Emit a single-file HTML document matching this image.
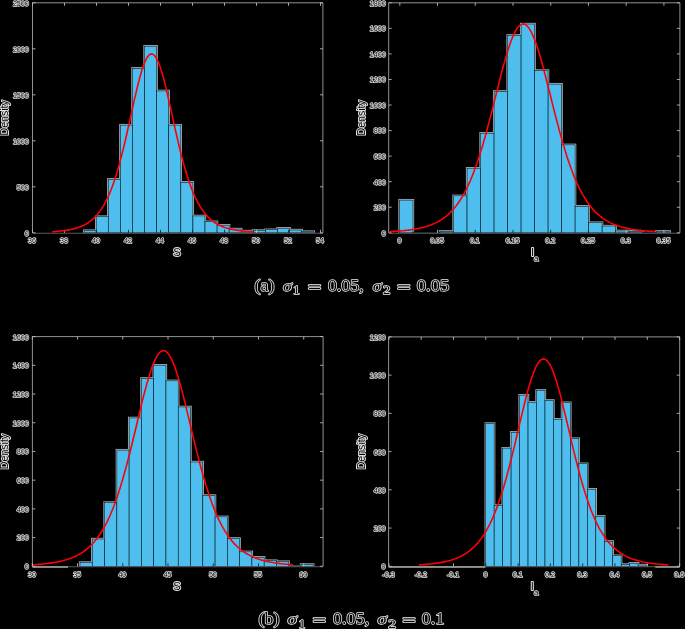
<!DOCTYPE html>
<html><head><meta charset="utf-8"><title>Histograms</title>
<style>
html,body{margin:0;padding:0;background:#000;}
svg{display:block}
text{font-family:"Liberation Sans",sans-serif;fill:#050505;stroke:#e2e2e2;stroke-width:1.6px;paint-order:stroke fill;stroke-linejoin:round}
.tk text,.tk{font-size:7.8px}
.lb{font-size:11.8px;stroke-width:2px}
.xl{font-size:11.3px}
.cp,.cpi,.cps{font-family:"Liberation Serif",serif;font-size:17px;stroke-width:1.45px;stroke:#ececec}
.cpi{font-style:italic;font-size:15px}
.cps{font-size:12.5px}
</style></head>
<body>
<svg width="685" height="629" viewBox="0 0 685 629">
<defs><filter id="bl" x="-5%" y="-5%" width="110%" height="110%"><feGaussianBlur stdDeviation="0.35"/></filter></defs>
<rect width="685" height="629" fill="#000"/>
<g filter="url(#bl)">
<rect x="82.95" y="229.45" width="14.39" height="3.35" fill="#b4b4b4"/>
<rect x="95.04" y="215.45" width="14.39" height="17.35" fill="#b4b4b4"/>
<rect x="107.13" y="178.15" width="14.39" height="54.65" fill="#b4b4b4"/>
<rect x="119.22" y="123.95" width="14.39" height="108.85" fill="#b4b4b4"/>
<rect x="131.31" y="67.15" width="14.39" height="165.65" fill="#b4b4b4"/>
<rect x="143.4" y="45.05" width="14.39" height="187.75" fill="#b4b4b4"/>
<rect x="155.49" y="89.75" width="14.39" height="143.05" fill="#b4b4b4"/>
<rect x="167.58" y="123.95" width="14.39" height="108.85" fill="#b4b4b4"/>
<rect x="179.67" y="181.15" width="14.39" height="51.65" fill="#b4b4b4"/>
<rect x="191.76" y="214.75" width="14.39" height="18.05" fill="#b4b4b4"/>
<rect x="203.85" y="220.55" width="14.39" height="12.25" fill="#b4b4b4"/>
<rect x="215.94" y="224.05" width="14.39" height="8.75" fill="#b4b4b4"/>
<rect x="228.03" y="227.85" width="14.39" height="4.95" fill="#b4b4b4"/>
<rect x="240.12" y="229.85" width="14.39" height="2.95" fill="#b4b4b4"/>
<rect x="252.21" y="229.35" width="14.39" height="3.45" fill="#b4b4b4"/>
<rect x="264.3" y="228.55" width="14.39" height="4.25" fill="#b4b4b4"/>
<rect x="276.39" y="227.05" width="14.39" height="5.75" fill="#b4b4b4"/>
<rect x="288.48" y="228.85" width="14.39" height="3.95" fill="#b4b4b4"/>
<rect x="300.57" y="230.45" width="14.39" height="2.35" fill="#b4b4b4"/>
<rect x="84.1" y="230.6" width="12.09" height="2.2" fill="#4DBEEE" stroke="#04141c" stroke-width="0.58"/>
<rect x="96.19" y="216.6" width="12.09" height="16.2" fill="#4DBEEE" stroke="#04141c" stroke-width="0.58"/>
<rect x="108.28" y="179.3" width="12.09" height="53.5" fill="#4DBEEE" stroke="#04141c" stroke-width="0.58"/>
<rect x="120.37" y="125.1" width="12.09" height="107.7" fill="#4DBEEE" stroke="#04141c" stroke-width="0.58"/>
<rect x="132.46" y="68.3" width="12.09" height="164.5" fill="#4DBEEE" stroke="#04141c" stroke-width="0.58"/>
<rect x="144.55" y="46.2" width="12.09" height="186.6" fill="#4DBEEE" stroke="#04141c" stroke-width="0.58"/>
<rect x="156.64" y="90.9" width="12.09" height="141.9" fill="#4DBEEE" stroke="#04141c" stroke-width="0.58"/>
<rect x="168.73" y="125.1" width="12.09" height="107.7" fill="#4DBEEE" stroke="#04141c" stroke-width="0.58"/>
<rect x="180.82" y="182.3" width="12.09" height="50.5" fill="#4DBEEE" stroke="#04141c" stroke-width="0.58"/>
<rect x="192.91" y="215.9" width="12.09" height="16.9" fill="#4DBEEE" stroke="#04141c" stroke-width="0.58"/>
<rect x="205" y="221.7" width="12.09" height="11.1" fill="#4DBEEE" stroke="#04141c" stroke-width="0.58"/>
<rect x="217.09" y="225.2" width="12.09" height="7.6" fill="#4DBEEE" stroke="#04141c" stroke-width="0.58"/>
<rect x="229.18" y="229" width="12.09" height="3.8" fill="#4DBEEE" stroke="#04141c" stroke-width="0.58"/>
<rect x="241.27" y="231" width="12.09" height="1.8" fill="#4DBEEE" stroke="#04141c" stroke-width="0.58"/>
<rect x="253.36" y="230.5" width="12.09" height="2.3" fill="#4DBEEE" stroke="#04141c" stroke-width="0.58"/>
<rect x="265.45" y="229.7" width="12.09" height="3.1" fill="#4DBEEE" stroke="#04141c" stroke-width="0.58"/>
<rect x="277.54" y="228.2" width="12.09" height="4.6" fill="#4DBEEE" stroke="#04141c" stroke-width="0.58"/>
<rect x="289.63" y="230" width="12.09" height="2.8" fill="#4DBEEE" stroke="#04141c" stroke-width="0.58"/>
<rect x="301.72" y="231.6" width="12.09" height="1.2" fill="#4DBEEE" stroke="#04141c" stroke-width="0.58"/>
<path d="M32.5 232.8V2.8H322.9V232.8" fill="none" stroke="#929292" stroke-width="1"/>
<path d="M32.5 233.3H322.9" fill="none" stroke="#5c5c5c" stroke-width="1.1"/>
<path d="M32.5 2.8v3M32.5 232.8v-3M64.5 2.8v3M64.5 232.8v-3M96.5 2.8v3M128.5 2.8v3M160.5 2.8v3M192.5 2.8v3M224.5 2.8v3M256.5 2.8v3M256.5 232.8v-3M288.5 2.8v3M320.5 2.8v3M320.5 232.8v-3M32.5 232.8h3M322.9 232.8h-3M32.5 186.8h3M322.9 186.8h-3M32.5 140.8h3M322.9 140.8h-3M32.5 94.8h3M322.9 94.8h-3M32.5 48.8h3M322.9 48.8h-3M32.5 2.8h3M322.9 2.8h-3" fill="none" stroke="#c2c2c2" stroke-width="0.85"/>
<path d="M96.5 232.8v-3M128.5 232.8v-3M160.5 232.8v-3M192.5 232.8v-3M224.5 232.8v-3M288.5 232.8v-3" fill="none" stroke="#0a2a38" stroke-width="0.9"/>
<polyline points="52.0,231.7 53.1,231.7 54.2,231.6 55.4,231.5 56.5,231.4 57.6,231.3 58.7,231.2 59.8,231.1 60.9,231.0 62.0,230.9 63.2,230.7 64.3,230.6 65.4,230.4 66.5,230.3 67.6,230.1 68.8,229.9 69.9,229.7 71.0,229.4 72.1,229.2 73.2,228.9 74.3,228.7 75.5,228.4 76.6,228.0 77.7,227.7 78.8,227.3 79.9,226.9 81.0,226.4 82.2,226.0 83.3,225.4 84.4,224.9 85.5,224.3 86.6,223.7 87.7,223.0 88.8,222.2 90.0,221.4 91.1,220.6 92.2,219.7 93.3,218.7 94.4,217.6 95.5,216.5 96.7,215.3 97.8,214.0 98.9,212.6 100.0,211.1 101.1,209.5 102.2,207.8 103.4,205.9 104.5,204.0 105.6,201.9 106.7,199.7 107.8,197.4 109.0,194.9 110.1,192.2 111.2,189.5 112.3,186.5 113.4,183.4 114.5,180.1 115.7,176.7 116.8,173.1 117.9,169.3 119.0,165.4 120.1,161.3 121.2,157.1 122.3,152.7 123.5,148.1 124.6,143.5 125.7,138.7 126.8,133.8 127.9,128.9 129.1,123.8 130.2,118.8 131.3,113.7 132.4,108.6 133.5,103.6 134.6,98.6 135.8,93.8 136.9,89.0 138.0,84.5 139.1,80.1 140.2,76.0 141.3,72.1 142.4,68.5 143.6,65.3 144.7,62.4 145.8,59.9 146.9,57.8 148.0,56.2 149.2,55.0 150.3,54.2 151.4,53.9 152.5,54.1 153.6,54.7 154.7,55.8 155.8,57.3 157.0,59.3 158.1,61.6 159.2,64.4 160.3,67.5 161.4,71.0 162.6,74.8 163.7,78.8 164.8,83.1 165.9,87.6 167.0,92.3 168.1,97.2 169.2,102.1 170.4,107.1 171.5,112.2 172.6,117.3 173.7,122.3 174.8,127.4 175.9,132.3 177.1,137.2 178.2,142.1 179.3,146.8 180.4,151.3 181.5,155.8 182.7,160.1 183.8,164.2 184.9,168.2 186.0,172.0 187.1,175.6 188.2,179.1 189.3,182.4 190.5,185.6 191.6,188.6 192.7,191.4 193.8,194.1 194.9,196.6 196.1,199.0 197.2,201.3 198.3,203.4 199.4,205.4 200.5,207.2 201.6,209.0 202.8,210.6 203.9,212.1 205.0,213.6 206.1,214.9 207.2,216.1 208.3,217.3 209.4,218.4 210.6,219.4 211.7,220.3 212.8,221.2 213.9,222.0 215.0,222.8 216.2,223.5 217.3,224.1 218.4,224.7 219.5,225.3 220.6,225.8 221.7,226.3 222.8,226.7 224.0,227.2 225.1,227.6 226.2,227.9 227.3,228.3 228.4,228.6 229.6,228.9 230.7,229.1 231.8,229.4 232.9,229.6 234.0,229.8 235.1,230.0 236.2,230.2 237.4,230.4 238.5,230.5 239.6,230.7 240.7,230.8 241.8,231.0 242.9,231.1 244.1,231.2 245.2,231.3 246.3,231.4 247.4,231.5 248.5,231.6 249.7,231.6 250.8,231.7 251.9,231.8 253.0,231.9" fill="none" stroke="#fc0008" stroke-width="1.6" stroke-linejoin="round"/>
<g class="tk"><text x="28.12" y="243.2" textLength="7.95" lengthAdjust="spacingAndGlyphs">36</text><text x="60.12" y="243.2" textLength="7.95" lengthAdjust="spacingAndGlyphs">38</text><text x="92.12" y="243.2" textLength="7.95" lengthAdjust="spacingAndGlyphs">40</text><text x="124.12" y="243.2" textLength="7.95" lengthAdjust="spacingAndGlyphs">42</text><text x="156.12" y="243.2" textLength="7.95" lengthAdjust="spacingAndGlyphs">44</text><text x="188.12" y="243.2" textLength="7.95" lengthAdjust="spacingAndGlyphs">46</text><text x="220.12" y="243.2" textLength="7.95" lengthAdjust="spacingAndGlyphs">48</text><text x="252.12" y="243.2" textLength="7.95" lengthAdjust="spacingAndGlyphs">50</text><text x="284.12" y="243.2" textLength="7.95" lengthAdjust="spacingAndGlyphs">52</text><text x="316.12" y="243.2" textLength="7.95" lengthAdjust="spacingAndGlyphs">54</text><text x="24.82" y="235.7" textLength="3.98" lengthAdjust="spacingAndGlyphs">0</text><text x="16.87" y="189.7" textLength="11.93" lengthAdjust="spacingAndGlyphs">500</text><text x="12.9" y="143.7" textLength="15.9" lengthAdjust="spacingAndGlyphs">1000</text><text x="12.9" y="97.7" textLength="15.9" lengthAdjust="spacingAndGlyphs">1500</text><text x="12.9" y="51.7" textLength="15.9" lengthAdjust="spacingAndGlyphs">2000</text><text x="12.9" y="5.7" textLength="15.9" lengthAdjust="spacingAndGlyphs">2500</text></g>
<text class="lb" transform="translate(8 135.5) rotate(-90)" textLength="35.3" lengthAdjust="spacingAndGlyphs">Density</text>
<text class="lb xl" x="177" y="256.4" text-anchor="middle">S</text>
<rect x="398.35" y="198.95" width="15.81" height="33.85" fill="#b4b4b4"/>
<rect x="438.88" y="230.25" width="15.81" height="2.55" fill="#b4b4b4"/>
<rect x="452.39" y="194.65" width="15.81" height="38.15" fill="#b4b4b4"/>
<rect x="465.9" y="167.05" width="15.81" height="65.75" fill="#b4b4b4"/>
<rect x="479.41" y="132.05" width="15.81" height="100.75" fill="#b4b4b4"/>
<rect x="492.92" y="90.25" width="15.81" height="142.55" fill="#b4b4b4"/>
<rect x="506.43" y="34.25" width="15.81" height="198.55" fill="#b4b4b4"/>
<rect x="519.94" y="22.85" width="15.81" height="209.95" fill="#b4b4b4"/>
<rect x="533.45" y="69.35" width="15.81" height="163.45" fill="#b4b4b4"/>
<rect x="546.96" y="82.95" width="15.81" height="149.85" fill="#b4b4b4"/>
<rect x="560.47" y="143.65" width="15.81" height="89.15" fill="#b4b4b4"/>
<rect x="573.98" y="205.15" width="15.81" height="27.65" fill="#b4b4b4"/>
<rect x="587.49" y="221.45" width="15.81" height="11.35" fill="#b4b4b4"/>
<rect x="601" y="224.85" width="15.81" height="7.95" fill="#b4b4b4"/>
<rect x="614.51" y="229.75" width="15.81" height="3.05" fill="#b4b4b4"/>
<rect x="628.02" y="230.25" width="15.81" height="2.55" fill="#b4b4b4"/>
<rect x="655.04" y="230.25" width="15.81" height="2.55" fill="#b4b4b4"/>
<rect x="399.5" y="200.1" width="13.51" height="32.7" fill="#4DBEEE" stroke="#04141c" stroke-width="0.58"/>
<rect x="413.01" y="232.1" width="13.51" height="0.7" fill="#4DBEEE" stroke="#04141c" stroke-width="0.58"/>
<rect x="426.52" y="232.1" width="13.51" height="0.7" fill="#4DBEEE" stroke="#04141c" stroke-width="0.58"/>
<rect x="440.03" y="231.4" width="13.51" height="1.4" fill="#4DBEEE" stroke="#04141c" stroke-width="0.58"/>
<rect x="453.54" y="195.8" width="13.51" height="37" fill="#4DBEEE" stroke="#04141c" stroke-width="0.58"/>
<rect x="467.05" y="168.2" width="13.51" height="64.6" fill="#4DBEEE" stroke="#04141c" stroke-width="0.58"/>
<rect x="480.56" y="133.2" width="13.51" height="99.6" fill="#4DBEEE" stroke="#04141c" stroke-width="0.58"/>
<rect x="494.07" y="91.4" width="13.51" height="141.4" fill="#4DBEEE" stroke="#04141c" stroke-width="0.58"/>
<rect x="507.58" y="35.4" width="13.51" height="197.4" fill="#4DBEEE" stroke="#04141c" stroke-width="0.58"/>
<rect x="521.09" y="24" width="13.51" height="208.8" fill="#4DBEEE" stroke="#04141c" stroke-width="0.58"/>
<rect x="534.6" y="70.5" width="13.51" height="162.3" fill="#4DBEEE" stroke="#04141c" stroke-width="0.58"/>
<rect x="548.11" y="84.1" width="13.51" height="148.7" fill="#4DBEEE" stroke="#04141c" stroke-width="0.58"/>
<rect x="561.62" y="144.8" width="13.51" height="88" fill="#4DBEEE" stroke="#04141c" stroke-width="0.58"/>
<rect x="575.13" y="206.3" width="13.51" height="26.5" fill="#4DBEEE" stroke="#04141c" stroke-width="0.58"/>
<rect x="588.64" y="222.6" width="13.51" height="10.2" fill="#4DBEEE" stroke="#04141c" stroke-width="0.58"/>
<rect x="602.15" y="226" width="13.51" height="6.8" fill="#4DBEEE" stroke="#04141c" stroke-width="0.58"/>
<rect x="615.66" y="230.9" width="13.51" height="1.9" fill="#4DBEEE" stroke="#04141c" stroke-width="0.58"/>
<rect x="629.17" y="231.4" width="13.51" height="1.4" fill="#4DBEEE" stroke="#04141c" stroke-width="0.58"/>
<rect x="642.68" y="232.2" width="13.51" height="0.6" fill="#4DBEEE" stroke="#04141c" stroke-width="0.58"/>
<rect x="656.19" y="231.4" width="13.51" height="1.4" fill="#4DBEEE" stroke="#04141c" stroke-width="0.58"/>
<path d="M388.7 232.8V2.8H679.9V232.8" fill="none" stroke="#929292" stroke-width="1"/>
<path d="M388.7 233.3H679.9" fill="none" stroke="#5c5c5c" stroke-width="1.1"/>
<path d="M399.8 2.8v3M437.53 2.8v3M437.53 232.8v-3M475.26 2.8v3M512.99 2.8v3M550.72 2.8v3M588.45 2.8v3M626.18 2.8v3M626.18 232.8v-3M663.91 2.8v3M663.91 232.8v-3M388.7 232.8h3M679.9 232.8h-3M388.7 207.24h3M679.9 207.24h-3M388.7 181.69h3M679.9 181.69h-3M388.7 156.13h3M679.9 156.13h-3M388.7 130.58h3M679.9 130.58h-3M388.7 105.02h3M679.9 105.02h-3M388.7 79.47h3M679.9 79.47h-3M388.7 53.91h3M679.9 53.91h-3M388.7 28.36h3M679.9 28.36h-3M388.7 2.8h3M679.9 2.8h-3" fill="none" stroke="#c2c2c2" stroke-width="0.85"/>
<path d="M399.8 232.8v-3M475.26 232.8v-3M512.99 232.8v-3M550.72 232.8v-3M588.45 232.8v-3" fill="none" stroke="#0a2a38" stroke-width="0.9"/>
<polyline points="389.2,231.7 390.7,231.6 392.2,231.5 393.6,231.4 395.1,231.3 396.6,231.2 398.1,231.1 399.6,231.0 401.0,230.9 402.5,230.7 404.0,230.6 405.5,230.4 407.0,230.3 408.4,230.1 409.9,229.9 411.4,229.7 412.9,229.5 414.4,229.2 415.8,229.0 417.3,228.7 418.8,228.4 420.3,228.1 421.7,227.7 423.2,227.4 424.7,227.0 426.2,226.5 427.7,226.1 429.1,225.6 430.6,225.0 432.1,224.4 433.6,223.8 435.1,223.1 436.5,222.4 438.0,221.6 439.5,220.8 441.0,219.9 442.5,218.9 443.9,217.9 445.4,216.8 446.9,215.6 448.4,214.3 449.9,212.9 451.3,211.4 452.8,209.8 454.3,208.1 455.8,206.3 457.3,204.3 458.7,202.2 460.2,200.0 461.7,197.7 463.2,195.1 464.7,192.5 466.1,189.6 467.6,186.6 469.1,183.4 470.6,180.0 472.0,176.5 473.5,172.7 475.0,168.8 476.5,164.6 478.0,160.3 479.4,155.8 480.9,151.1 482.4,146.2 483.9,141.1 485.4,135.9 486.8,130.5 488.3,125.0 489.8,119.3 491.3,113.6 492.8,107.7 494.2,101.8 495.7,95.9 497.2,90.0 498.7,84.1 500.2,78.3 501.6,72.5 503.1,67.0 504.6,61.6 506.1,56.4 507.6,51.4 509.0,46.8 510.5,42.5 512.0,38.6 513.5,35.1 515.0,32.0 516.4,29.4 517.9,27.3 519.4,25.7 520.9,24.6 522.4,24.1 523.8,24.1 525.3,24.6 526.8,25.7 528.3,27.3 529.7,29.4 531.2,32.0 532.7,35.1 534.2,38.6 535.7,42.5 537.1,46.8 538.6,51.4 540.1,56.3 541.6,61.5 543.1,66.9 544.5,72.5 546.0,78.2 547.5,84.0 549.0,89.9 550.5,95.8 551.9,101.8 553.4,107.6 554.9,113.5 556.4,119.2 557.9,124.9 559.3,130.4 560.8,135.8 562.3,141.1 563.8,146.1 565.3,151.0 566.7,155.7 568.2,160.3 569.7,164.6 571.2,168.7 572.7,172.7 574.1,176.4 575.6,180.0 577.1,183.4 578.6,186.6 580.0,189.6 581.5,192.4 583.0,195.1 584.5,197.6 586.0,200.0 587.4,202.2 588.9,204.3 590.4,206.2 591.9,208.1 593.4,209.8 594.8,211.4 596.3,212.9 597.8,214.2 599.3,215.5 600.8,216.7 602.2,217.9 603.7,218.9 605.2,219.9 606.7,220.8 608.2,221.6 609.6,222.4 611.1,223.1 612.6,223.8 614.1,224.4 615.6,225.0 617.0,225.6 618.5,226.1 620.0,226.5 621.5,227.0 623.0,227.4 624.4,227.7 625.9,228.1 627.4,228.4 628.9,228.7 630.3,229.0 631.8,229.2 633.3,229.5 634.8,229.7 636.3,229.9 637.7,230.1 639.2,230.3 640.7,230.4 642.2,230.6 643.7,230.7 645.1,230.9 646.6,231.0 648.1,231.1 649.6,231.2 651.1,231.3 652.5,231.4 654.0,231.5 655.5,231.6" fill="none" stroke="#fc0008" stroke-width="1.6" stroke-linejoin="round"/>
<g class="tk"><text x="397.41" y="243.2" textLength="3.98" lengthAdjust="spacingAndGlyphs">0</text><text x="430.17" y="243.2" textLength="13.91" lengthAdjust="spacingAndGlyphs">0.05</text><text x="469.89" y="243.2" textLength="9.94" lengthAdjust="spacingAndGlyphs">0.1</text><text x="505.63" y="243.2" textLength="13.91" lengthAdjust="spacingAndGlyphs">0.15</text><text x="545.35" y="243.2" textLength="9.94" lengthAdjust="spacingAndGlyphs">0.2</text><text x="581.09" y="243.2" textLength="13.91" lengthAdjust="spacingAndGlyphs">0.25</text><text x="620.81" y="243.2" textLength="9.94" lengthAdjust="spacingAndGlyphs">0.3</text><text x="656.55" y="243.2" textLength="13.91" lengthAdjust="spacingAndGlyphs">0.35</text><text x="381.72" y="235.7" textLength="3.98" lengthAdjust="spacingAndGlyphs">0</text><text x="373.77" y="210.14" textLength="11.93" lengthAdjust="spacingAndGlyphs">200</text><text x="373.77" y="184.59" textLength="11.93" lengthAdjust="spacingAndGlyphs">400</text><text x="373.77" y="159.03" textLength="11.93" lengthAdjust="spacingAndGlyphs">600</text><text x="373.77" y="133.48" textLength="11.93" lengthAdjust="spacingAndGlyphs">800</text><text x="369.8" y="107.92" textLength="15.9" lengthAdjust="spacingAndGlyphs">1000</text><text x="369.8" y="82.37" textLength="15.9" lengthAdjust="spacingAndGlyphs">1200</text><text x="369.8" y="56.81" textLength="15.9" lengthAdjust="spacingAndGlyphs">1400</text><text x="369.8" y="31.26" textLength="15.9" lengthAdjust="spacingAndGlyphs">1600</text><text x="369.8" y="5.7" textLength="15.9" lengthAdjust="spacingAndGlyphs">1800</text></g>
<text class="lb" transform="translate(364.6 135.5) rotate(-90)" textLength="35.3" lengthAdjust="spacingAndGlyphs">Density</text>
<text class="lb xl" x="532.5" y="256.2" text-anchor="middle">I</text><text class="tk" x="536.3" y="261" text-anchor="middle" style="font-size:8px">a</text>
<rect x="78.85" y="561.35" width="14.58" height="4.95" fill="#b4b4b4"/>
<rect x="91.13" y="537.85" width="14.58" height="28.45" fill="#b4b4b4"/>
<rect x="103.41" y="501.35" width="14.58" height="64.95" fill="#b4b4b4"/>
<rect x="115.69" y="448.95" width="14.58" height="117.35" fill="#b4b4b4"/>
<rect x="127.97" y="416.75" width="14.58" height="149.55" fill="#b4b4b4"/>
<rect x="140.25" y="377.25" width="14.58" height="189.05" fill="#b4b4b4"/>
<rect x="152.53" y="364.05" width="14.58" height="202.25" fill="#b4b4b4"/>
<rect x="164.81" y="379.65" width="14.58" height="186.65" fill="#b4b4b4"/>
<rect x="177.09" y="405.75" width="14.58" height="160.55" fill="#b4b4b4"/>
<rect x="189.37" y="460.85" width="14.58" height="105.45" fill="#b4b4b4"/>
<rect x="201.65" y="494.35" width="14.58" height="71.95" fill="#b4b4b4"/>
<rect x="213.93" y="515.65" width="14.58" height="50.65" fill="#b4b4b4"/>
<rect x="226.21" y="537.25" width="14.58" height="29.05" fill="#b4b4b4"/>
<rect x="238.49" y="550.65" width="14.58" height="15.65" fill="#b4b4b4"/>
<rect x="250.77" y="556.15" width="14.58" height="10.15" fill="#b4b4b4"/>
<rect x="263.05" y="559.45" width="14.58" height="6.85" fill="#b4b4b4"/>
<rect x="275.33" y="560.45" width="14.58" height="5.85" fill="#b4b4b4"/>
<rect x="299.89" y="563.35" width="14.58" height="2.95" fill="#b4b4b4"/>
<rect x="80" y="562.5" width="12.28" height="3.8" fill="#4DBEEE" stroke="#04141c" stroke-width="0.58"/>
<rect x="92.28" y="539" width="12.28" height="27.3" fill="#4DBEEE" stroke="#04141c" stroke-width="0.58"/>
<rect x="104.56" y="502.5" width="12.28" height="63.8" fill="#4DBEEE" stroke="#04141c" stroke-width="0.58"/>
<rect x="116.84" y="450.1" width="12.28" height="116.2" fill="#4DBEEE" stroke="#04141c" stroke-width="0.58"/>
<rect x="129.12" y="417.9" width="12.28" height="148.4" fill="#4DBEEE" stroke="#04141c" stroke-width="0.58"/>
<rect x="141.4" y="378.4" width="12.28" height="187.9" fill="#4DBEEE" stroke="#04141c" stroke-width="0.58"/>
<rect x="153.68" y="365.2" width="12.28" height="201.1" fill="#4DBEEE" stroke="#04141c" stroke-width="0.58"/>
<rect x="165.96" y="380.8" width="12.28" height="185.5" fill="#4DBEEE" stroke="#04141c" stroke-width="0.58"/>
<rect x="178.24" y="406.9" width="12.28" height="159.4" fill="#4DBEEE" stroke="#04141c" stroke-width="0.58"/>
<rect x="190.52" y="462" width="12.28" height="104.3" fill="#4DBEEE" stroke="#04141c" stroke-width="0.58"/>
<rect x="202.8" y="495.5" width="12.28" height="70.8" fill="#4DBEEE" stroke="#04141c" stroke-width="0.58"/>
<rect x="215.08" y="516.8" width="12.28" height="49.5" fill="#4DBEEE" stroke="#04141c" stroke-width="0.58"/>
<rect x="227.36" y="538.4" width="12.28" height="27.9" fill="#4DBEEE" stroke="#04141c" stroke-width="0.58"/>
<rect x="239.64" y="551.8" width="12.28" height="14.5" fill="#4DBEEE" stroke="#04141c" stroke-width="0.58"/>
<rect x="251.92" y="557.3" width="12.28" height="9" fill="#4DBEEE" stroke="#04141c" stroke-width="0.58"/>
<rect x="264.2" y="560.6" width="12.28" height="5.7" fill="#4DBEEE" stroke="#04141c" stroke-width="0.58"/>
<rect x="276.48" y="561.6" width="12.28" height="4.7" fill="#4DBEEE" stroke="#04141c" stroke-width="0.58"/>
<rect x="288.76" y="565.2" width="12.28" height="1.1" fill="#4DBEEE" stroke="#04141c" stroke-width="0.58"/>
<rect x="301.04" y="564.5" width="12.28" height="1.8" fill="#4DBEEE" stroke="#04141c" stroke-width="0.58"/>
<path d="M32.4 566.3V336.6H323.1V566.3" fill="none" stroke="#929292" stroke-width="1"/>
<path d="M32.4 566.8H323.1" fill="none" stroke="#5c5c5c" stroke-width="1.1"/>
<path d="M32.4 567H68" fill="none" stroke="#ababab" stroke-width="1.4"/>
<path d="M32.3 336.6v3M32.3 566.3v-3M77.54 336.6v3M77.54 566.3v-3M122.78 336.6v3M168.02 336.6v3M213.26 336.6v3M258.5 336.6v3M303.74 336.6v3M303.74 566.3v-3M32.4 566.3h3M323.1 566.3h-3M32.4 537.59h3M323.1 537.59h-3M32.4 508.88h3M323.1 508.88h-3M32.4 480.16h3M323.1 480.16h-3M32.4 451.45h3M323.1 451.45h-3M32.4 422.74h3M323.1 422.74h-3M32.4 394.02h3M323.1 394.02h-3M32.4 365.31h3M323.1 365.31h-3M32.4 336.6h3M323.1 336.6h-3" fill="none" stroke="#c2c2c2" stroke-width="0.85"/>
<path d="M122.78 566.3v-3M168.02 566.3v-3M213.26 566.3v-3M258.5 566.3v-3" fill="none" stroke="#0a2a38" stroke-width="0.9"/>
<polyline points="33.0,564.8 34.4,564.7 35.9,564.6 37.3,564.5 38.8,564.4 40.2,564.3 41.7,564.1 43.1,564.0 44.6,563.8 46.0,563.7 47.4,563.5 48.9,563.3 50.3,563.1 51.8,562.9 53.2,562.7 54.7,562.4 56.1,562.2 57.6,561.9 59.0,561.6 60.4,561.3 61.9,561.0 63.3,560.6 64.8,560.2 66.2,559.8 67.7,559.3 69.1,558.8 70.6,558.3 72.0,557.8 73.4,557.2 74.9,556.5 76.3,555.8 77.8,555.1 79.2,554.3 80.7,553.4 82.1,552.5 83.6,551.6 85.0,550.5 86.4,549.4 87.9,548.2 89.3,546.9 90.8,545.5 92.2,544.0 93.7,542.5 95.1,540.8 96.6,539.0 98.0,537.0 99.4,535.0 100.9,532.8 102.3,530.5 103.8,528.0 105.2,525.4 106.7,522.6 108.1,519.6 109.6,516.5 111.0,513.2 112.4,509.7 113.9,506.0 115.3,502.1 116.8,498.0 118.2,493.8 119.7,489.3 121.1,484.6 122.6,479.8 124.0,474.8 125.4,469.6 126.9,464.2 128.3,458.6 129.8,453.0 131.2,447.2 132.7,441.3 134.1,435.3 135.6,429.3 137.0,423.2 138.4,417.1 139.9,411.1 141.3,405.2 142.8,399.3 144.2,393.6 145.7,388.1 147.1,382.9 148.6,377.9 150.0,373.2 151.4,368.8 152.9,364.9 154.3,361.4 155.8,358.3 157.2,355.7 158.7,353.6 160.1,352.1 161.6,351.1 163.0,350.6 164.4,350.7 165.9,351.4 167.3,352.6 168.8,354.4 170.2,356.6 171.7,359.4 173.1,362.6 174.6,366.3 176.0,370.4 177.4,374.9 178.9,379.7 180.3,384.8 181.8,390.2 183.2,395.8 184.7,401.5 186.1,407.4 187.6,413.4 189.0,419.4 190.4,425.5 191.9,431.5 193.3,437.6 194.8,443.5 196.2,449.4 197.7,455.1 199.1,460.7 200.6,466.2 202.0,471.5 203.4,476.7 204.9,481.6 206.3,486.4 207.8,491.0 209.2,495.4 210.7,499.6 212.1,503.6 213.6,507.4 215.0,511.0 216.4,514.4 217.9,517.7 219.3,520.7 220.8,523.6 222.2,526.4 223.7,528.9 225.1,531.4 226.6,533.6 228.0,535.8 229.4,537.8 230.9,539.7 232.3,541.4 233.8,543.1 235.2,544.6 236.7,546.0 238.1,547.4 239.6,548.6 241.0,549.8 242.4,550.9 243.9,551.9 245.3,552.9 246.8,553.8 248.2,554.6 249.7,555.4 251.1,556.1 252.6,556.8 254.0,557.4 255.4,558.0 256.9,558.5 258.3,559.0 259.8,559.5 261.2,559.9 262.7,560.3 264.1,560.7 265.6,561.1 267.0,561.4 268.4,561.7 269.9,562.0 271.3,562.3 272.8,562.5 274.2,562.8 275.7,563.0 277.1,563.2 278.6,563.4 280.0,563.6 281.4,563.7 282.9,563.9 284.3,564.0 285.8,564.2 287.2,564.3 288.7,564.4 290.1,564.5 291.6,564.6 293.0,564.7" fill="none" stroke="#fc0008" stroke-width="1.6" stroke-linejoin="round"/>
<g class="tk"><text x="27.92" y="576.7" textLength="7.95" lengthAdjust="spacingAndGlyphs">30</text><text x="73.16" y="576.7" textLength="7.95" lengthAdjust="spacingAndGlyphs">35</text><text x="118.4" y="576.7" textLength="7.95" lengthAdjust="spacingAndGlyphs">40</text><text x="163.64" y="576.7" textLength="7.95" lengthAdjust="spacingAndGlyphs">45</text><text x="208.88" y="576.7" textLength="7.95" lengthAdjust="spacingAndGlyphs">50</text><text x="254.12" y="576.7" textLength="7.95" lengthAdjust="spacingAndGlyphs">55</text><text x="299.36" y="576.7" textLength="7.95" lengthAdjust="spacingAndGlyphs">60</text><text x="24.72" y="569.2" textLength="3.98" lengthAdjust="spacingAndGlyphs">0</text><text x="16.77" y="540.49" textLength="11.93" lengthAdjust="spacingAndGlyphs">200</text><text x="16.77" y="511.77" textLength="11.93" lengthAdjust="spacingAndGlyphs">400</text><text x="16.77" y="483.06" textLength="11.93" lengthAdjust="spacingAndGlyphs">600</text><text x="16.77" y="454.35" textLength="11.93" lengthAdjust="spacingAndGlyphs">800</text><text x="12.8" y="425.64" textLength="15.9" lengthAdjust="spacingAndGlyphs">1000</text><text x="12.8" y="396.92" textLength="15.9" lengthAdjust="spacingAndGlyphs">1200</text><text x="12.8" y="368.21" textLength="15.9" lengthAdjust="spacingAndGlyphs">1400</text><text x="12.8" y="339.5" textLength="15.9" lengthAdjust="spacingAndGlyphs">1600</text></g>
<text class="lb" transform="translate(8 469.15) rotate(-90)" textLength="35.3" lengthAdjust="spacingAndGlyphs">Density</text>
<text class="lb xl" x="177.05" y="589.9" text-anchor="middle">S</text>
<rect x="484.55" y="422.35" width="10.77" height="143.95" fill="#b4b4b4"/>
<rect x="493.02" y="504.35" width="10.77" height="61.95" fill="#b4b4b4"/>
<rect x="501.49" y="446.95" width="10.77" height="119.35" fill="#b4b4b4"/>
<rect x="509.96" y="431.15" width="10.77" height="135.15" fill="#b4b4b4"/>
<rect x="518.43" y="393.95" width="10.77" height="172.35" fill="#b4b4b4"/>
<rect x="526.9" y="401.05" width="10.77" height="165.25" fill="#b4b4b4"/>
<rect x="535.37" y="389.25" width="10.77" height="177.05" fill="#b4b4b4"/>
<rect x="543.84" y="399.25" width="10.77" height="167.05" fill="#b4b4b4"/>
<rect x="552.31" y="418.05" width="10.77" height="148.25" fill="#b4b4b4"/>
<rect x="560.78" y="401.55" width="10.77" height="164.75" fill="#b4b4b4"/>
<rect x="569.25" y="437.45" width="10.77" height="128.85" fill="#b4b4b4"/>
<rect x="577.72" y="462.55" width="10.77" height="103.75" fill="#b4b4b4"/>
<rect x="586.19" y="488.05" width="10.77" height="78.25" fill="#b4b4b4"/>
<rect x="594.66" y="515.15" width="10.77" height="51.15" fill="#b4b4b4"/>
<rect x="603.13" y="540.25" width="10.77" height="26.05" fill="#b4b4b4"/>
<rect x="611.6" y="554.55" width="10.77" height="11.75" fill="#b4b4b4"/>
<rect x="620.07" y="563.35" width="10.77" height="2.95" fill="#b4b4b4"/>
<rect x="628.54" y="562.05" width="10.77" height="4.25" fill="#b4b4b4"/>
<rect x="637.01" y="563.85" width="10.77" height="2.45" fill="#b4b4b4"/>
<rect x="485.7" y="423.5" width="8.47" height="142.8" fill="#4DBEEE" stroke="#04141c" stroke-width="0.58"/>
<rect x="494.17" y="505.5" width="8.47" height="60.8" fill="#4DBEEE" stroke="#04141c" stroke-width="0.58"/>
<rect x="502.64" y="448.1" width="8.47" height="118.2" fill="#4DBEEE" stroke="#04141c" stroke-width="0.58"/>
<rect x="511.11" y="432.3" width="8.47" height="134" fill="#4DBEEE" stroke="#04141c" stroke-width="0.58"/>
<rect x="519.58" y="395.1" width="8.47" height="171.2" fill="#4DBEEE" stroke="#04141c" stroke-width="0.58"/>
<rect x="528.05" y="402.2" width="8.47" height="164.1" fill="#4DBEEE" stroke="#04141c" stroke-width="0.58"/>
<rect x="536.52" y="390.4" width="8.47" height="175.9" fill="#4DBEEE" stroke="#04141c" stroke-width="0.58"/>
<rect x="544.99" y="400.4" width="8.47" height="165.9" fill="#4DBEEE" stroke="#04141c" stroke-width="0.58"/>
<rect x="553.46" y="419.2" width="8.47" height="147.1" fill="#4DBEEE" stroke="#04141c" stroke-width="0.58"/>
<rect x="561.93" y="402.7" width="8.47" height="163.6" fill="#4DBEEE" stroke="#04141c" stroke-width="0.58"/>
<rect x="570.4" y="438.6" width="8.47" height="127.7" fill="#4DBEEE" stroke="#04141c" stroke-width="0.58"/>
<rect x="578.87" y="463.7" width="8.47" height="102.6" fill="#4DBEEE" stroke="#04141c" stroke-width="0.58"/>
<rect x="587.34" y="489.2" width="8.47" height="77.1" fill="#4DBEEE" stroke="#04141c" stroke-width="0.58"/>
<rect x="595.81" y="516.3" width="8.47" height="50" fill="#4DBEEE" stroke="#04141c" stroke-width="0.58"/>
<rect x="604.28" y="541.4" width="8.47" height="24.9" fill="#4DBEEE" stroke="#04141c" stroke-width="0.58"/>
<rect x="612.75" y="555.7" width="8.47" height="10.6" fill="#4DBEEE" stroke="#04141c" stroke-width="0.58"/>
<rect x="621.22" y="564.5" width="8.47" height="1.8" fill="#4DBEEE" stroke="#04141c" stroke-width="0.58"/>
<rect x="629.69" y="563.2" width="8.47" height="3.1" fill="#4DBEEE" stroke="#04141c" stroke-width="0.58"/>
<rect x="638.16" y="565" width="8.47" height="1.3" fill="#4DBEEE" stroke="#04141c" stroke-width="0.58"/>
<rect x="646.63" y="566" width="8.47" height="0.3" fill="#4DBEEE" stroke="#04141c" stroke-width="0.58"/>
<path d="M388.6 566.3V336.9H679.7V566.3" fill="none" stroke="#929292" stroke-width="1"/>
<path d="M388.6 566.8H679.7" fill="none" stroke="#5c5c5c" stroke-width="1.1"/>
<path d="M388.6 567H485.4" fill="none" stroke="#ababab" stroke-width="1.4"/>
<path d="M655.3 567H679.7" fill="none" stroke="#ababab" stroke-width="1.4"/>
<path d="M388.9 336.9v3M388.9 566.3v-3M421.2 336.9v3M453.5 336.9v3M453.5 566.3v-3M485.8 336.9v3M518.1 336.9v3M550.4 336.9v3M582.7 336.9v3M615 336.9v3M647.3 336.9v3M647.3 566.3v-3M679.6 336.9v3M679.6 566.3v-3M388.6 566.3h3M679.7 566.3h-3M388.6 528.07h3M679.7 528.07h-3M388.6 489.83h3M679.7 489.83h-3M388.6 451.6h3M679.7 451.6h-3M388.6 413.37h3M679.7 413.37h-3M388.6 375.13h3M679.7 375.13h-3M388.6 336.9h3M679.7 336.9h-3" fill="none" stroke="#c2c2c2" stroke-width="0.85"/>
<path d="M485.8 566.3v-3M518.1 566.3v-3M550.4 566.3v-3M582.7 566.3v-3M615 566.3v-3" fill="none" stroke="#0a2a38" stroke-width="0.9"/>
<polyline points="419.0,564.9 420.4,564.8 421.8,564.7 423.2,564.6 424.5,564.5 425.9,564.4 427.3,564.3 428.7,564.1 430.1,564.0 431.5,563.8 432.9,563.7 434.2,563.5 435.6,563.3 437.0,563.1 438.4,562.9 439.8,562.7 441.2,562.4 442.5,562.2 443.9,561.9 445.3,561.6 446.7,561.3 448.1,560.9 449.5,560.6 450.9,560.2 452.2,559.7 453.6,559.3 455.0,558.8 456.4,558.2 457.8,557.7 459.2,557.1 460.6,556.4 461.9,555.7 463.3,555.0 464.7,554.1 466.1,553.3 467.5,552.3 468.9,551.3 470.2,550.3 471.6,549.1 473.0,547.9 474.4,546.6 475.8,545.2 477.2,543.6 478.6,542.0 479.9,540.3 481.3,538.4 482.7,536.5 484.1,534.4 485.5,532.1 486.9,529.7 488.2,527.2 489.6,524.5 491.0,521.6 492.4,518.6 493.8,515.4 495.2,512.0 496.6,508.4 497.9,504.7 499.3,500.7 500.7,496.5 502.1,492.2 503.5,487.7 504.9,483.0 506.3,478.0 507.6,473.0 509.0,467.7 510.4,462.3 511.8,456.8 513.2,451.1 514.6,445.4 515.9,439.5 517.3,433.7 518.7,427.8 520.1,421.8 521.5,416.0 522.9,410.2 524.3,404.5 525.6,399.0 527.0,393.7 528.4,388.6 529.8,383.9 531.2,379.4 532.6,375.2 534.0,371.5 535.3,368.2 536.7,365.4 538.1,363.0 539.5,361.2 540.9,359.9 542.3,359.1 543.6,358.9 545.0,359.2 546.4,360.1 547.8,361.6 549.2,363.5 550.6,366.0 552.0,368.9 553.3,372.3 554.7,376.1 556.1,380.3 557.5,384.9 558.9,389.7 560.3,394.9 561.7,400.2 563.0,405.8 564.4,411.5 565.8,417.3 567.2,423.1 568.6,429.0 570.0,434.9 571.3,440.8 572.7,446.6 574.1,452.4 575.5,458.0 576.9,463.5 578.3,468.9 579.7,474.1 581.0,479.1 582.4,484.0 583.8,488.7 585.2,493.2 586.6,497.5 588.0,501.6 589.4,505.5 590.7,509.2 592.1,512.7 593.5,516.1 594.9,519.3 596.3,522.3 597.7,525.1 599.0,527.8 600.4,530.3 601.8,532.6 603.2,534.8 604.6,536.9 606.0,538.9 607.4,540.7 608.7,542.4 610.1,544.0 611.5,545.5 612.9,546.9 614.3,548.2 615.7,549.4 617.1,550.5 618.4,551.6 619.8,552.5 621.2,553.5 622.6,554.3 624.0,555.1 625.4,555.9 626.8,556.6 628.1,557.2 629.5,557.8 630.9,558.4 632.3,558.9 633.7,559.4 635.1,559.8 636.4,560.2 637.8,560.6 639.2,561.0 640.6,561.3 642.0,561.7 643.4,562.0 644.8,562.2 646.1,562.5 647.5,562.7 648.9,563.0 650.3,563.2 651.7,563.4 653.1,563.5 654.4,563.7 655.8,563.9 657.2,564.0 658.6,564.2 660.0,564.3 661.4,564.4 662.8,564.5 664.1,564.6 665.5,564.7 666.9,564.8 668.3,564.9" fill="none" stroke="#fc0008" stroke-width="1.6" stroke-linejoin="round"/>
<g class="tk"><text x="382.34" y="576.7" textLength="12.32" lengthAdjust="spacingAndGlyphs">-0.3</text><text x="414.64" y="576.7" textLength="12.32" lengthAdjust="spacingAndGlyphs">-0.2</text><text x="446.94" y="576.7" textLength="12.32" lengthAdjust="spacingAndGlyphs">-0.1</text><text x="483.41" y="576.7" textLength="3.98" lengthAdjust="spacingAndGlyphs">0</text><text x="512.73" y="576.7" textLength="9.94" lengthAdjust="spacingAndGlyphs">0.1</text><text x="545.03" y="576.7" textLength="9.94" lengthAdjust="spacingAndGlyphs">0.2</text><text x="577.33" y="576.7" textLength="9.94" lengthAdjust="spacingAndGlyphs">0.3</text><text x="609.63" y="576.7" textLength="9.94" lengthAdjust="spacingAndGlyphs">0.4</text><text x="641.93" y="576.7" textLength="9.94" lengthAdjust="spacingAndGlyphs">0.5</text><text x="674.23" y="576.7" textLength="9.94" lengthAdjust="spacingAndGlyphs">0.6</text><text x="381.62" y="569.2" textLength="3.98" lengthAdjust="spacingAndGlyphs">0</text><text x="373.67" y="530.97" textLength="11.93" lengthAdjust="spacingAndGlyphs">200</text><text x="373.67" y="492.73" textLength="11.93" lengthAdjust="spacingAndGlyphs">400</text><text x="373.67" y="454.5" textLength="11.93" lengthAdjust="spacingAndGlyphs">600</text><text x="373.67" y="416.27" textLength="11.93" lengthAdjust="spacingAndGlyphs">800</text><text x="369.7" y="378.03" textLength="15.9" lengthAdjust="spacingAndGlyphs">1000</text><text x="369.7" y="339.8" textLength="15.9" lengthAdjust="spacingAndGlyphs">1200</text></g>
<text class="lb" transform="translate(364.6 469.3) rotate(-90)" textLength="35.3" lengthAdjust="spacingAndGlyphs">Density</text>
<text class="lb xl" x="532.35" y="589.7" text-anchor="middle">I</text><text class="tk" x="536.15" y="594.5" text-anchor="middle" style="font-size:8px">a</text>
<text class="cp" x="254.6" y="291" textLength="20" lengthAdjust="spacingAndGlyphs">(a)</text><text class="cpi" x="282.9" y="291" textLength="8.9" lengthAdjust="spacingAndGlyphs">σ</text><text class="cps" x="293.1" y="294.2" textLength="6.8" lengthAdjust="spacingAndGlyphs">1</text><text class="cp" x="307.7" y="292.6" textLength="13.6" lengthAdjust="spacingAndGlyphs">=</text><text class="cp" x="327.9" y="291" textLength="35.7" lengthAdjust="spacingAndGlyphs">0.05,</text><text class="cpi" x="372.7" y="291" textLength="8.8" lengthAdjust="spacingAndGlyphs">σ</text><text class="cps" x="382.9" y="294.2" textLength="7.4" lengthAdjust="spacingAndGlyphs">2</text><text class="cp" x="397.1" y="292.6" textLength="13.6" lengthAdjust="spacingAndGlyphs">=</text><text class="cp" x="416.8" y="291" textLength="32.6" lengthAdjust="spacingAndGlyphs">0.05</text>
<text class="cp" x="258.5" y="624.3" textLength="20.9" lengthAdjust="spacingAndGlyphs">(b)</text><text class="cpi" x="287.5" y="624.3" textLength="9.5" lengthAdjust="spacingAndGlyphs">σ</text><text class="cps" x="298.4" y="627.5" textLength="6.9" lengthAdjust="spacingAndGlyphs">1</text><text class="cp" x="312.5" y="625.9" textLength="13.6" lengthAdjust="spacingAndGlyphs">=</text><text class="cp" x="333" y="624.3" textLength="36.2" lengthAdjust="spacingAndGlyphs">0.05,</text><text class="cpi" x="377.5" y="624.3" textLength="9.3" lengthAdjust="spacingAndGlyphs">σ</text><text class="cps" x="388.2" y="627.5" textLength="7.8" lengthAdjust="spacingAndGlyphs">2</text><text class="cp" x="402.3" y="625.9" textLength="13.6" lengthAdjust="spacingAndGlyphs">=</text><text class="cp" x="421.7" y="624.3" textLength="22.7" lengthAdjust="spacingAndGlyphs">0.1</text>
</g>
</svg>
</body></html>
